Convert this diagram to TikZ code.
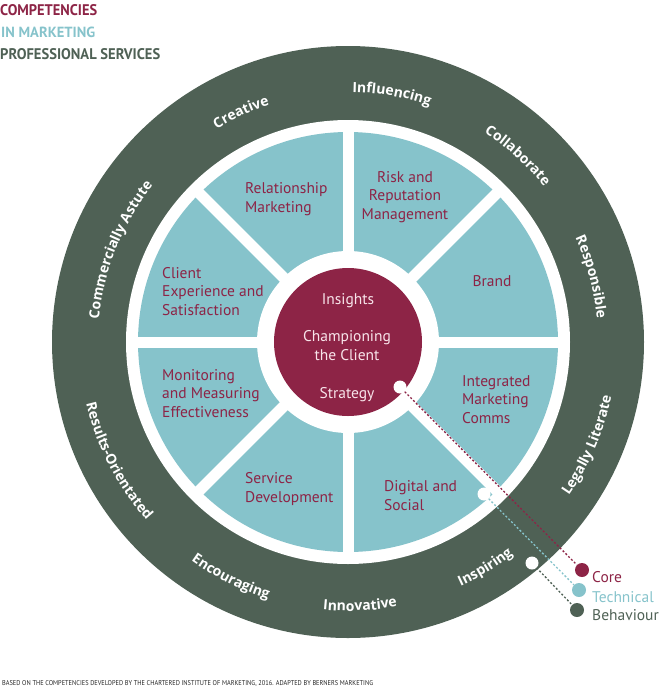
\documentclass[tikz,border=0pt]{standalone}
\usepackage{fontspec}
\setmainfont{PT Sans}
\newfontfamily\ringfam{Open Sans}
\usetikzlibrary{decorations.text,calc}
\definecolor{dkg}{RGB}{79,97,85}
\definecolor{tealc}{RGB}{134,195,203}
\definecolor{marc}{RGB}{141,36,70}
\definecolor{pinkc}{RGB}{248,228,234}
\newcommand\ringfont{\ringfam\fontsize{14}{17}\selectfont\bfseries}
\newcommand\RingCW[2]{\path[decorate,decoration={text along path,text align=center,text={|\ringfont\color{white}|#2}}] ($(C)+({#1+45}:250pt)$) arc[start angle={#1+45},end angle={#1-45},radius=250pt];}
\newcommand\RingCCW[2]{\path[decorate,decoration={text along path,text align=center,text={|\ringfont\color{white}|#2}}] ($(C)+({#1-45}:269pt)$) arc[start angle={#1-45},end angle={#1+45},radius=269pt];}
\begin{document}
\begin{tikzpicture}[x=1pt,y=1pt,
  lab/.style={text=marc,font=\fontsize{15.5}{18.5}\selectfont,inner sep=0pt,align=left,anchor=base west},
  labc/.style={lab,align=center,anchor=base},
  ctext/.style={text=pinkc,font=\fontsize{15.5}{18.5}\selectfont,inner sep=0pt,align=center,anchor=base},
  whitedot/.style={circle,fill=white,minimum size=13pt,inner sep=0pt},
  legdot/.style={circle,minimum size=14pt,inner sep=0pt},
  dotl/.style={line width=1.3pt,dash pattern=on 2pt off 2pt},
  leg/.style={font=\fontsize{15.5}{18.5}\selectfont,inner sep=0pt,anchor=base west},
  ttl/.style={inner sep=0pt,anchor=base west}]
\useasboundingbox (0,0) rectangle (660,-689);
\coordinate (C) at (348,-342);
% rings
\fill[dkg] (C) circle (296pt);
\fill[white] (C) circle (222pt);
\fill[tealc] (C) circle (210pt);
\foreach \a in {0,45,90,135}
  \draw[white,line width=11pt] ($(C)+(\a:212pt)$) -- ($(C)+(\a+180:212pt)$);
\fill[white] (C) circle (91pt);
\fill[marc] (C) circle (74pt);
% ring words
\RingCW{158}{Commercially Astute}
\RingCW{115}{Creative}
\RingCW{80}{Influencing}
\RingCW{47.7}{Collaborate}
\RingCW{15}{Responsible}
\RingCCW{-23.3}{Legally Literate}
\RingCCW{-58.7}{Inspiring}
\RingCCW{-87.4}{Innovative}
\RingCCW{-116.5}{Encouraging}
\RingCCW{-152.6}{Results-Orientated}
% sector labels (anchor = baseline of last line)
\node[lab] (rm) at (245,-212) {Relationship\\Marketing};
\node[labc] (rr) at (405,-219) {Risk and\\Reputation\\Management};
\node[labc] (br) at (492,-286) {Brand};
\node[lab] (ce) at (162,-315) {Client\\Experience and\\Satisfaction};
\node[lab] (mm) at (162,-417) {Monitoring\\and Measuring\\Effectiveness};
\node[lab] (sd) at (245,-502) {Service\\Development};
\node[lab] (ds) at (384,-510) {Digital and\\Social};
\node[lab] (im) at (462,-423) {Integrated\\Marketing\\Comms};
% centre
\node[ctext] (ins) at (348,-304) {Insights};
\node[ctext] (cc) at (347,-360) {Championing\\the Client};
\node[ctext] (st) at (347,-398) {Strategy};
% legend
\node[whitedot] (s1) at (400,-387) {};
\node[whitedot] (s2) at (484,-494) {};
\node[whitedot] (s3) at (532,-563) {};
\node[legdot,fill=marc] (l1) at (582,-570) {};
\node[legdot,fill=tealc] (l2) at (579,-590) {};
\node[legdot,fill=dkg] (l3) at (577,-610) {};
\draw[dotl,marc] (s1) -- (l1);
\draw[dotl,tealc] (s2) -- (l2);
\draw[dotl,dkg] (s3) -- (l3);
\node[leg,text=marc] (lc) at (592,-582) {Core};
\node[leg,text=tealc] (lt) at (592,-602) {Technical};
\node[leg,text=dkg] (lb) at (592,-620) {Behaviour};
% titles
\node[ttl,text=marc] (t1) at (0,-15) {\resizebox{97pt}{11pt}{\bfseries COMPETENCIES}};
\node[ttl,text=tealc] (t2) at (1,-37) {\resizebox{94pt}{10.5pt}{\bfseries IN MARKETING}};
\node[ttl,text=dkg] (t3) at (0,-59) {\resizebox{160pt}{11pt}{\bfseries PROFESSIONAL SERVICES}};
\node[ttl,text=black!85] (ft) at (2,-685) {\resizebox{371pt}{5pt}{BASED ON THE COMPETENCIES DEVELOPED BY THE CHARTERED INSTITUTE OF MARKETING, 2016. ADAPTED BY BERNERS MARKETING}};
\end{tikzpicture}
\end{document}
